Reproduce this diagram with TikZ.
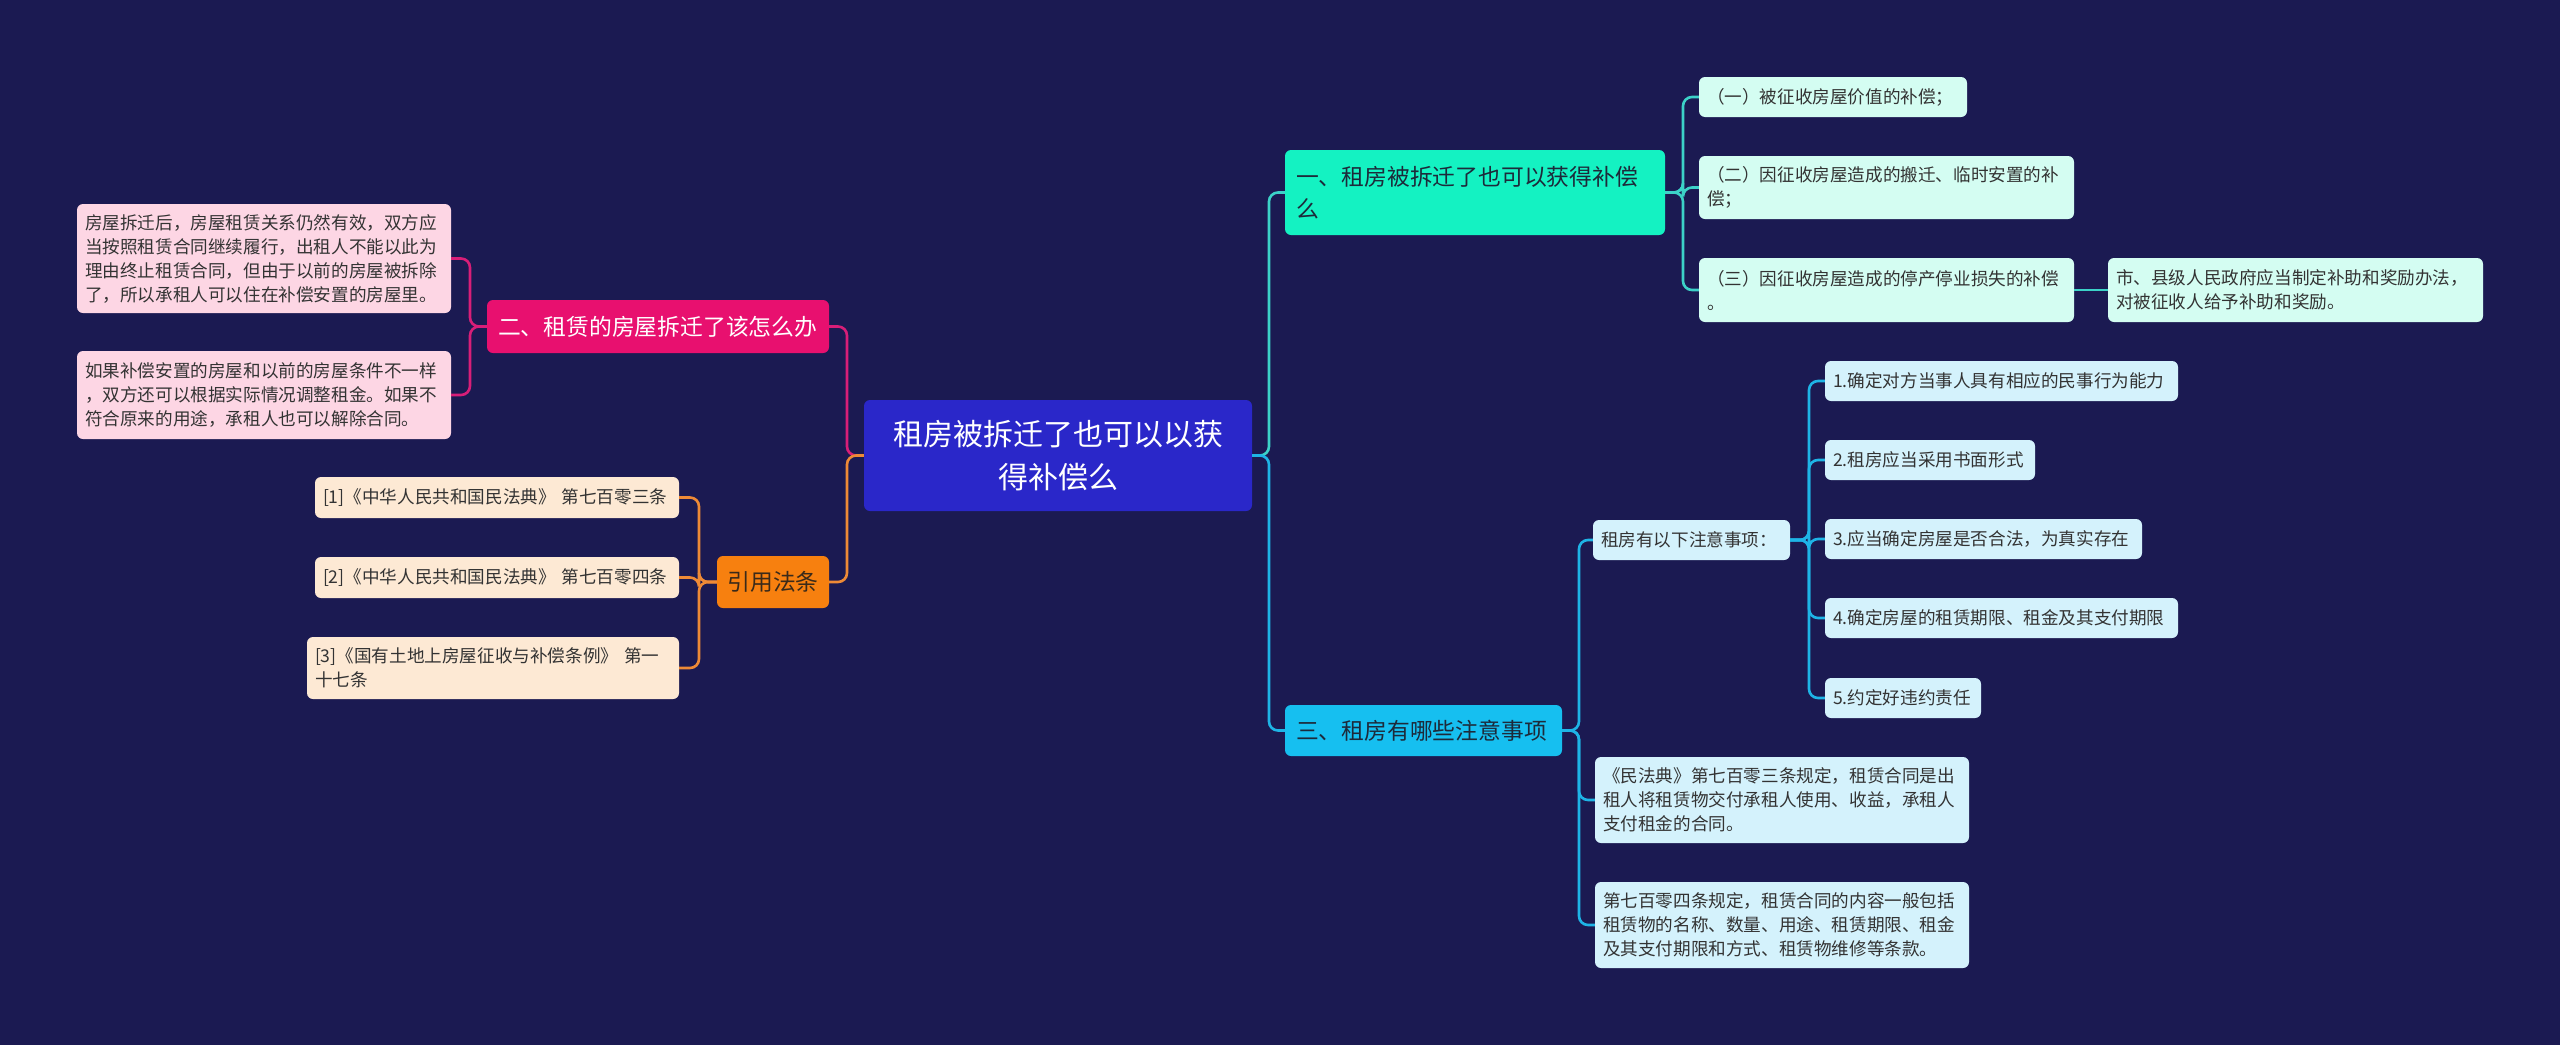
\documentclass[tikz,border=0pt]{standalone}
\usepackage{fontspec}
\setmainfont{Noto Sans CJK SC}
\definecolor{bg}{HTML}{1B1A52}
\definecolor{rootc}{HTML}{2A27C9}
\definecolor{magc}{HTML}{E8106F}
\definecolor{magl}{HTML}{D81E78}
\definecolor{pinkf}{HTML}{FDD6E4}
\definecolor{orc}{HTML}{F7800F}
\definecolor{orl}{HTML}{EE8A36}
\definecolor{peachf}{HTML}{FDE9D4}
\definecolor{aquac}{HTML}{14F2C2}
\definecolor{teall}{HTML}{3CD2C8}
\definecolor{mintf}{HTML}{D4FDF2}
\definecolor{cyanc}{HTML}{16BFF0}
\definecolor{bluel}{HTML}{1EB4E6}
\definecolor{skyf}{HTML}{D4F2FC}
\definecolor{leaftext}{HTML}{333333}
\definecolor{darktext}{HTML}{1D2A3A}
\definecolor{brown}{HTML}{3A2A1A}
\newcommand{\leaffont}{\fontsize{17.6}{24}\selectfont}
\newcommand{\midfont}{\fontsize{22.8}{32}\selectfont}
\newcommand{\rootfont}{\fontsize{30}{43}\selectfont}
\tikzset{
  box/.style={rounded corners=6pt, inner xsep=8pt, inner ysep=0pt, align=left, anchor=center},
  leaf/.style={box, font=\leaffont, text=leaftext},
  mid/.style={box, font=\midfont, inner xsep=11pt},
  conn/.style={line width=2.6pt, rounded corners=9pt},
}
\begin{document}
\begin{tikzpicture}[x=1pt,y=-1pt]
\useasboundingbox (0,0) rectangle (2560,1045);
\fill[bg] (0,0) rectangle (2560,1045);

% root
\node[box, fill=rootc, text=white, font=\rootfont, align=center, inner xsep=10pt, text width=368pt, minimum height=111pt] (root) at (1058,455.5) {租房被拆迁了也可以以获\\得补偿么};

% left: branch 2
\node[mid, fill=magc, text=white, text width=320pt, minimum height=53pt] (n2) at (658,326.5) {二、租赁的房屋拆迁了该怎么办};
\node[leaf, fill=pinkf, text width=358pt, minimum height=109pt] (p1) at (264,258.5) {房屋拆迁后，房屋租赁关系仍然有效，双方应\\当按照租赁合同继续履行，出租人不能以此为\\理由终止租赁合同，但由于以前的房屋被拆除\\了，所以承租人可以住在补偿安置的房屋里。};
\node[leaf, fill=pinkf, text width=358pt, minimum height=88pt] (p2) at (264,395) {如果补偿安置的房屋和以前的房屋条件不一样\\，双方还可以根据实际情况调整租金。如果不\\符合原来的用途，承租人也可以解除合同。};

% left: references
\node[mid, fill=orc, text=brown, align=center, inner xsep=10pt, text width=92pt, minimum height=52pt] (ref) at (773,582) {引用法条};
\node[leaf, fill=peachf, text width=348pt, minimum height=41pt] (r1) at (497,497.5) {[1]《中华人民共和国民法典》~第七百零三条};
\node[leaf, fill=peachf, text width=348pt, minimum height=41pt] (r2) at (497,577.5) {[2]《中华人民共和国民法典》~第七百零四条};
\node[leaf, fill=peachf, text width=356pt, minimum height=62pt] (r3) at (493,668) {[3]《国有土地上房屋征收与补偿条例》~第一\\十七条};

% right: branch 1
\node[mid, fill=aquac, text=darktext, text width=358pt, minimum height=85pt] (n1) at (1475,192.5) {一、租房被拆迁了也可以获得补偿\\么};
\node[leaf, fill=mintf, text width=252pt, minimum height=40pt] (a1) at (1833,97) {（一）被征收房屋价值的补偿；};
\node[leaf, fill=mintf, text width=359pt, minimum height=63pt] (a2) at (1886.5,187.5) {（二）因征收房屋造成的搬迁、临时安置的补\\偿；};
\node[leaf, fill=mintf, text width=359pt, minimum height=64pt] (a3) at (1886.5,290) {（三）因征收房屋造成的停产停业损失的补偿\\。};
\node[leaf, fill=mintf, text width=359pt, minimum height=64pt] (a3c) at (2295.5,290) {市、县级人民政府应当制定补助和奖励办法，\\对被征收人给予补助和奖励。};

% right: branch 3
\node[mid, fill=cyanc, text=darktext, text width=255pt, minimum height=51pt] (n3) at (1423.5,730.5) {三、租房有哪些注意事项};
\node[leaf, fill=skyf, text width=181pt, minimum height=40pt] (b1) at (1691.5,540) {租房有以下注意事项：};
\node[leaf, fill=skyf, text width=337pt, minimum height=40pt] (c1) at (2001.5,381) {1.确定对方当事人具有相应的民事行为能力};
\node[leaf, fill=skyf, text width=194pt, minimum height=40pt] (c2) at (1930,460) {2.租房应当采用书面形式};
\node[leaf, fill=skyf, text width=301pt, minimum height=40pt] (c3) at (1983.5,539) {3.应当确定房屋是否合法，为真实存在};
\node[leaf, fill=skyf, text width=337pt, minimum height=40pt] (c4) at (2001.5,618) {4.确定房屋的租赁期限、租金及其支付期限};
\node[leaf, fill=skyf, text width=140pt, minimum height=40pt] (c5) at (1903,698) {5.约定好违约责任};
\node[leaf, fill=skyf, text width=358pt, minimum height=86pt] (b2) at (1782,800) {《民法典》第七百零三条规定，租赁合同是出\\租人将租赁物交付承租人使用、收益，承租人\\支付租金的合同。};
\node[leaf, fill=skyf, text width=358pt, minimum height=86pt] (b3) at (1782,925) {第七百零四条规定，租赁合同的内容一般包括\\租赁物的名称、数量、用途、租赁期限、租金\\及其支付期限和方式、租赁物维修等条款。};

% connectors
\coordinate (jl) at (847,455.5);
\coordinate (jr) at (1269,455.5);
\draw[conn, magl] (root.west) -- (jl) |- (n2.east);
\draw[conn, orl] (root.west) -- (jl) |- (ref.east);
\draw[conn, teall] (root.east) -- (jr) |- (n1.west);
\draw[conn, bluel] (root.east) -- (jr) |- (n3.west);

\coordinate (j2) at (470,326.5);
\draw[conn, magl] (n2.west) -- (j2) |- (p1.east);
\draw[conn, magl] (n2.west) -- (j2) |- (p2.east);

\coordinate (jref) at (699,582);
\foreach \t in {r1,r2,r3} \draw[conn, orl] (ref.west) -- (jref) |- (\t.east);

\coordinate (j1) at (1683,192.5);
\foreach \t in {a1,a2,a3} \draw[conn, teall] (n1.east) -- (j1) |- (\t.west);
\draw[conn, teall] (a3.east) -- (a3c.west);

\coordinate (j3) at (1579,730.5);
\foreach \t in {b1,b2,b3} \draw[conn, bluel] (n3.east) -- (j3) |- (\t.west);

\coordinate (jb) at (1809,540);
\foreach \t in {c1,c2,c3,c4,c5} \draw[conn, bluel] (b1.east) -- (jb) |- (\t.west);
\end{tikzpicture}
\end{document}
